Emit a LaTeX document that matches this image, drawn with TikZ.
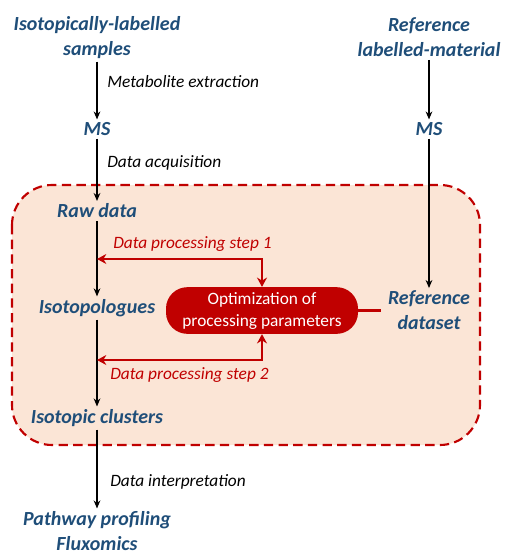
\documentclass[tikz,border=0pt]{standalone}
\usepackage{fontspec}
\setmainfont{Carlito}
\usetikzlibrary{arrows.meta}
\definecolor{bluetxt}{RGB}{31,78,121}
\definecolor{darkred}{RGB}{192,0,0}
\definecolor{peach}{RGB}{251,229,214}
\tikzset{
  stage/.style={text=bluetxt, font=\fontsize{15}{18.75}\selectfont\bfseries\itshape, align=center, inner sep=2pt},
  steplabel/.style={font=\fontsize{13}{16}\selectfont\itshape, anchor=west, inner sep=0pt},
  flow/.style={-{Stealth[length=6pt,width=5pt]}, line width=1.3pt},
  redflow/.style={{Stealth[length=7pt,width=7.5pt]}-{Stealth[length=7pt,width=7.5pt]}, line width=2pt, darkred}
}
\begin{document}
\begin{tikzpicture}[x=0.75pt, y=-0.75pt, line cap=butt, line join=miter]

    \useasboundingbox (0,0) rectangle (504,554);

    % Riquadro tratteggiato di elaborazione
    \draw[darkred, fill=peach, line width=1.6pt, dash pattern=on 7pt off 4pt, rounded corners=30pt]
        (12,185) rectangle (480,445);

    % Colonna sinistra
    \node[stage] (samples) at (97,37.5) {Isotopically-labelled\\samples};
    \node[stage] (ms1) at (97,129) {MS};
    \node[stage] (raw) at (97,211) {Raw data};
    \node[stage] (isotop) at (97,308) {Isotopologues};
    \node[stage] (clusters) at (97,418) {Isotopic clusters};
    \node[stage] (pathway) at (97,531) {Pathway profiling\\Fluxomics};

    % Colonna destra
    \node[stage] (refmat) at (429,37.5) {Reference\\labelled-material};
    \node[stage] (ms2) at (429,129) {MS};
    \node[stage] (refdata) at (429,310.5) {Reference\\dataset};

    % Ottimizzazione
    \node[fill=darkred, text=white, rounded corners=16pt, align=center,
          font=\fontsize{13}{16.5}\selectfont, minimum width=144pt, minimum height=35pt, inner sep=0pt]
        (opt) at (262,310.5) {Optimization of\\processing parameters};

    % Frecce principali
    \draw[flow] (samples) -- (ms1);
    \draw[flow] (ms1) -- (raw);
    \draw[flow] (raw) -- (isotop);
    \draw[flow] (isotop) -- (clusters);
    \draw[flow] (clusters) -- (pathway);
    \draw[flow] (refmat) -- (ms2);
    \draw[flow] (ms2) -- (refdata);

    % Etichette dei passaggi
    \node[steplabel] (lbl1) at (107,82) {Metabolite extraction};
    \node[steplabel] (lbl2) at (107,163) {Data acquisition};
    \node[steplabel] (lbl5) at (110,482) {Data interpretation};
    \node[steplabel, text=darkred] (lbl3) at (113,244) {Data processing step 1};
    \node[steplabel, text=darkred] (lbl4) at (110,375) {Data processing step 2};

    % Frecce rosse di elaborazione
    \coordinate (up) at (262,259);
    \coordinate (down) at (262,360);
    \draw[redflow] (raw |- up) -- (up) -- (opt.north);
    \draw[redflow] (isotop |- down) -- (down) -- (opt.south);

    % Collegamento al dataset di riferimento
    \draw[darkred, line width=2pt] (opt.east) -- ([xshift=-3pt]refdata.west);

\end{tikzpicture}
\end{document}
